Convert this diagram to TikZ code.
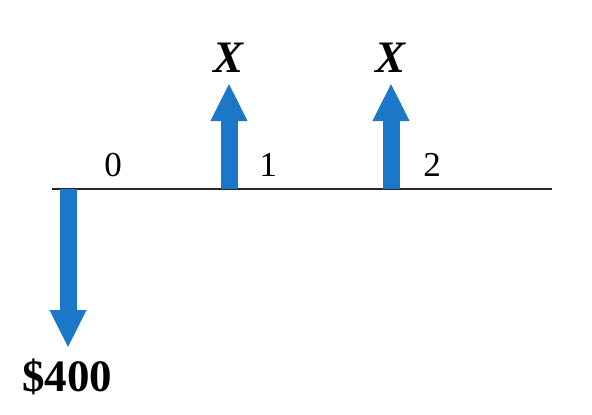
\documentclass[tikz,border=0pt]{standalone}
\usepackage{fontspec}
\setmainfont{Liberation Serif}
\usetikzlibrary{arrows.meta}
\definecolor{flowblue}{RGB}{27,120,200}
\tikzset{
  flow/.style={draw=flowblue, line width=17pt, -{Triangle[width=34pt,length=38pt]}},
  tick/.style={inner sep=0pt, font=\fontsize{35}{35}\selectfont},
  amount/.style={inner sep=0pt, font=\fontsize{45}{45}\selectfont\bfseries}
}
\begin{document}
\begin{tikzpicture}[x=1pt,y=-1pt]
    	\useasboundingbox (0,0) rectangle (592,415);
    	
    	\coordinate (start) at (52, 189);
    	\coordinate (end) at (552, 189);
    	\coordinate (t0) at (68, 189);
    	\coordinate (t1) at (229, 189);
    	\coordinate (t2) at (391, 189);
    	\coordinate (p0) at (68, 348);
    	\coordinate (p1) at (229, 83);
    	\coordinate (p2) at (391, 83);
    	
    	\node[tick] (n0) at (113, 165) {0};
    	\node[tick] (n1) at (268, 165) {1};
    	\node[tick] (n2) at (432, 165) {2};
    	\node[amount] (x1) at (229, 58) {\itshape X};
    	\node[amount] (x2) at (391, 58) {\itshape X};
    	\node[amount] (pay) at (67, 377) {\$400};
    	
    	\draw[line width=2.5pt, black!85] (start) -- (end);
    	\draw[flow] (t0) -- (p0);
    	\draw[flow] (t1) -- (p1);
    	\draw[flow] (t2) -- (p2);
    	
\end{tikzpicture}
\end{document}
